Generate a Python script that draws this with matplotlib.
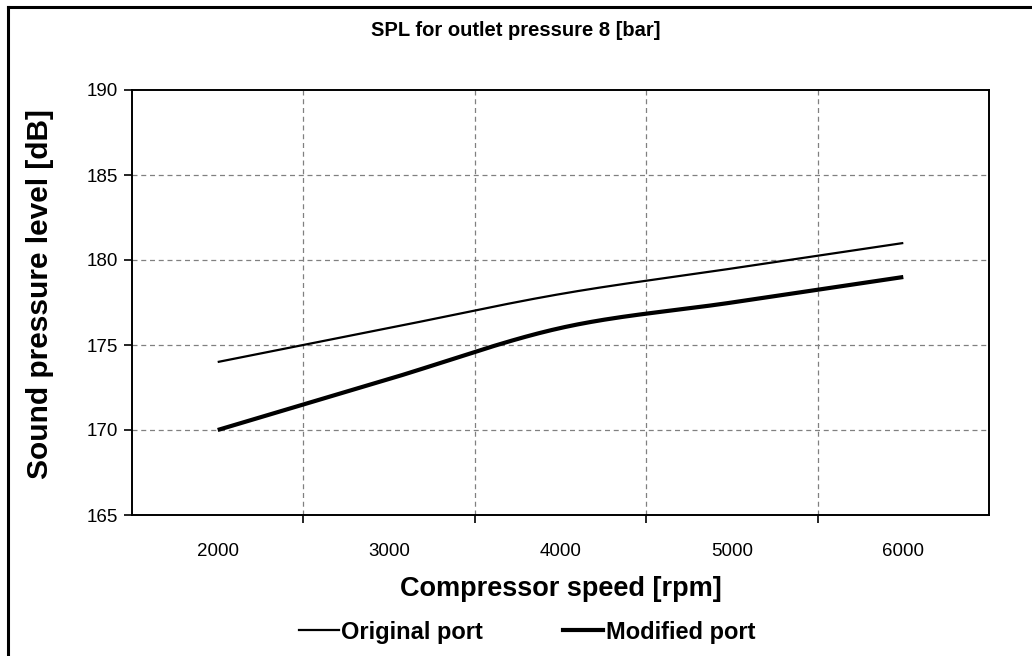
import numpy as np
import matplotlib
matplotlib.use("Agg")
import matplotlib.pyplot as plt
from matplotlib.lines import Line2D

categories = ["2000", "3000", "4000", "5000", "6000"]
original_port = [174, 176, 178, 179.5, 181]
modified_port = [170, 173, 176, 177.5, 179]
y_ticks = [165, 170, 175, 180, 185, 190]

plt.rcParams["font.family"] = ["Liberation Sans", "DejaVu Sans"]


def smooth(xs, ys, n=40):
    # Catmull-Rom style smoothing like a spreadsheet "smoothed line"
    xs = np.asarray(xs, float)
    ys = np.asarray(ys, float)
    px = np.concatenate([[xs[0]], xs, [xs[-1]]])
    py = np.concatenate([[ys[0]], ys, [ys[-1]]])
    outx, outy = [], []
    for i in range(1, len(px) - 2):
        p0, p1, p2, p3 = (np.array([px[j], py[j]]) for j in (i - 1, i, i + 1, i + 2))
        c1 = p1 + (p2 - p0) / 6.0
        c2 = p2 - (p3 - p1) / 6.0
        t = np.linspace(0, 1, n)[:, None]
        b = ((1 - t) ** 3) * p1 + 3 * ((1 - t) ** 2) * t * c1 + 3 * (1 - t) * t ** 2 * c2 + t ** 3 * p2
        outx.extend(b[:, 0]); outy.extend(b[:, 1])
    return outx, outy


fig = plt.figure(figsize=(10.32, 6.56), dpi=100)
ax = fig.add_axes([132 / 1032, 1 - 515 / 656, (989 - 132) / 1032, (515 - 90) / 656])

xpos = np.arange(len(categories))
sx, sy = smooth(xpos, original_port)
ax.plot(sx, sy, color="black", lw=1.6, solid_capstyle="butt", label="Original port")
sx, sy = smooth(xpos, modified_port)
ax.plot(sx, sy, color="black", lw=3.0, solid_capstyle="butt", label="Modified port")

ax.set_xlim(-0.5, len(categories) - 0.5)
ax.set_ylim(y_ticks[0], y_ticks[-1])
ax.set_yticks(y_ticks)
ax.set_yticklabels([str(v) for v in y_ticks], fontsize=13.5)
ax.set_xticks(xpos)
ax.set_xticklabels(categories, fontsize=13.5)
ax.tick_params(axis="x", which="major", length=0, pad=20)
ax.set_xticks(np.arange(len(categories) - 1) + 0.5, minor=True)
ax.tick_params(axis="x", which="minor", length=6, direction="out", width=1.2, color="black")
ax.tick_params(axis="y", length=6, direction="out", width=1.2, pad=4)

ax.grid(False)
for v in y_ticks[1:-1]:
    ax.axhline(v, color="#808080", lw=0.9, ls=(0, (4, 3)), zorder=0)
for v in np.arange(len(categories) - 1) + 0.5:
    ax.axvline(v, color="#808080", lw=0.9, ls=(0, (4, 3)), zorder=0)

for s in ax.spines.values():
    s.set_color("black")
    s.set_linewidth(1.4)

ax.set_xlabel("Compressor speed [rpm]", fontsize=19.5, fontweight="bold")
ax.xaxis.set_label_coords(0.5, (515 - 589) / 425)
ax.xaxis.label.set_va("center")
ax.set_ylabel("Sound pressure level [dB]", fontsize=21.5, fontweight="bold")
ax.yaxis.set_label_coords((40 - 132) / 857, (515 - 294) / 425)
ax.yaxis.label.set_va("center")

fig.text(516 / 1032, 1 - 31 / 656, "SPL for outlet pressure 8 [bar]", ha="center", va="center",
         fontsize=14.5, fontweight="bold")

handles = [Line2D([], [], color="black", lw=1.6), Line2D([], [], color="black", lw=3.0)]
fig.legend(handles, ["Original port", "Modified port"], loc="center",
           bbox_to_anchor=(527 / 1032, 1 - 632 / 656), ncol=2, frameon=False,
           prop={"size": 17, "weight": "bold"}, handlelength=1.7, handletextpad=0.1,
           columnspacing=3.4)

# outer chart frame
fig.add_artist(Line2D([8 / 1032, 8 / 1032], [0, 1 - 7 / 656], transform=fig.transFigure,
                      color="black", lw=2.2))
fig.add_artist(Line2D([8 / 1032, 1], [1 - 7 / 656, 1 - 7 / 656], transform=fig.transFigure,
                      color="black", lw=2.2))

fig.savefig("out.png", dpi=100, facecolor="white")
